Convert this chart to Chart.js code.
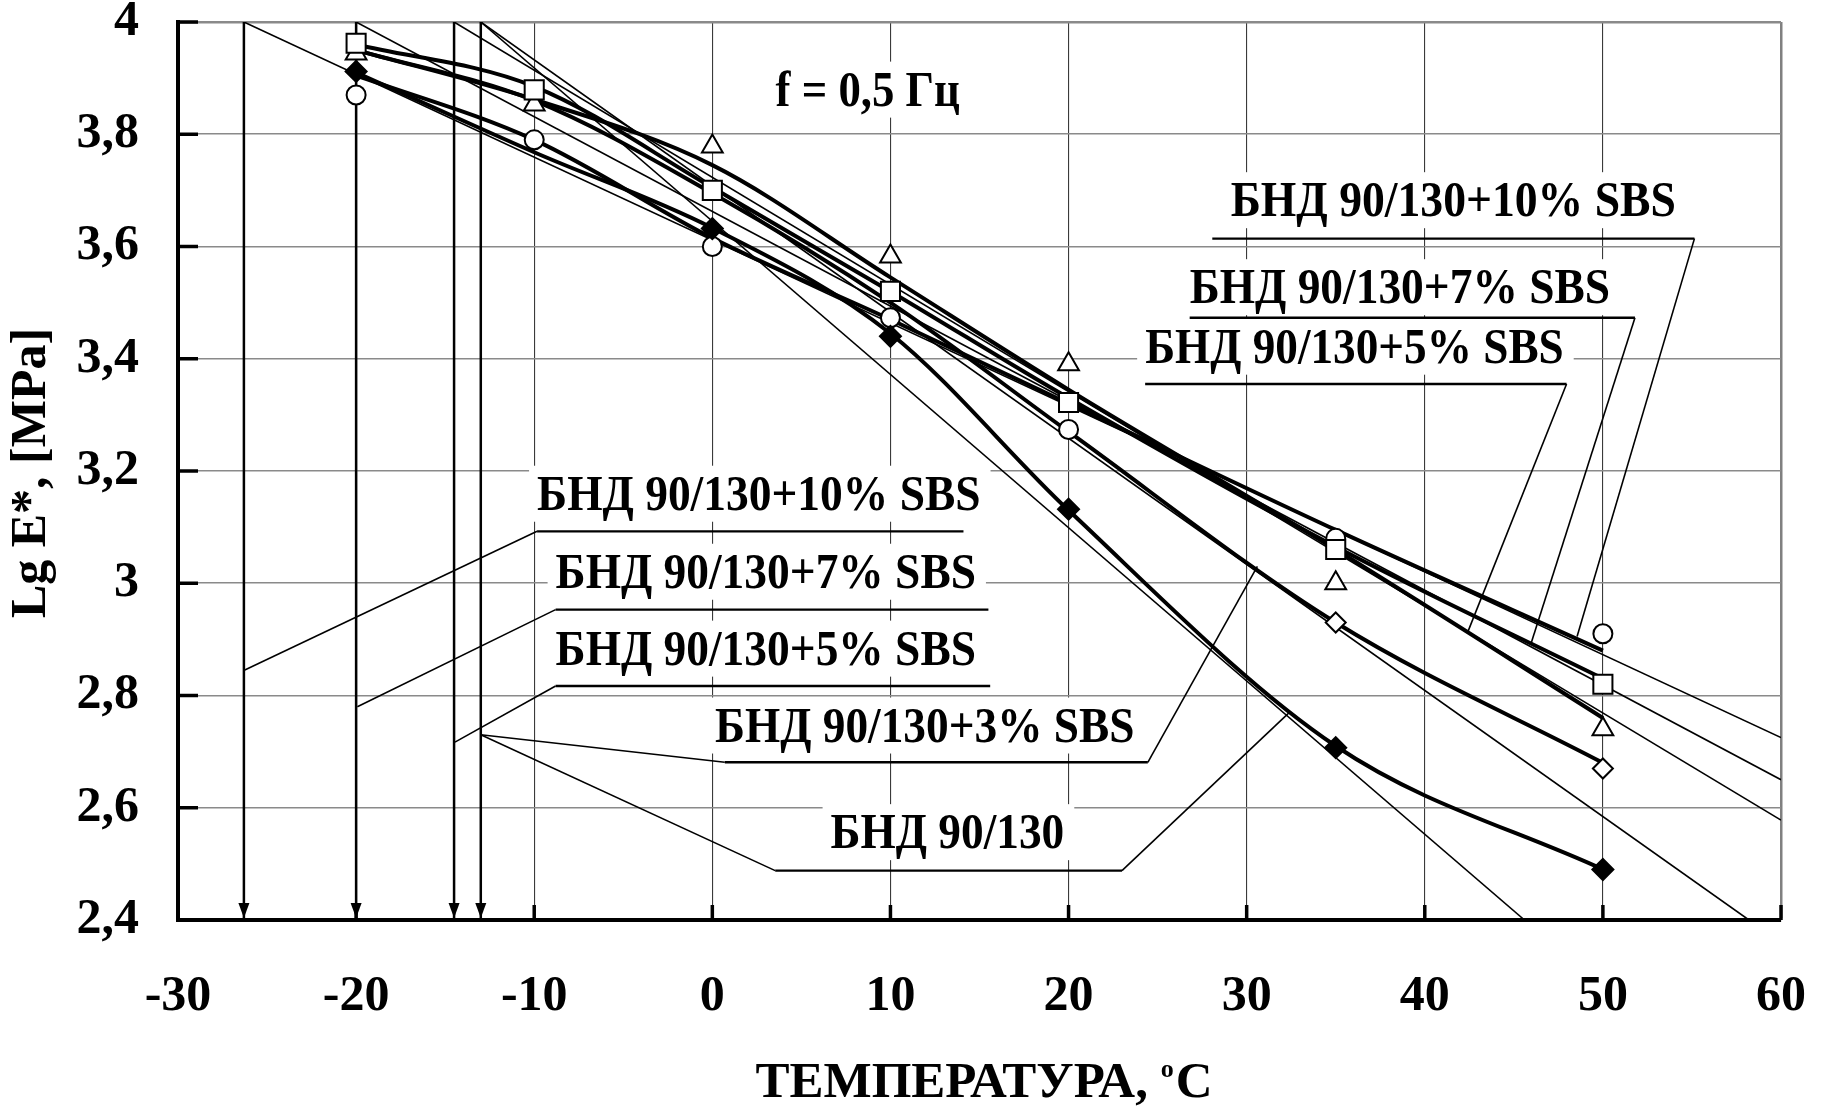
<!DOCTYPE html>
<html lang="ru">
<head>
<meta charset="utf-8">
<title>Lg E* — температура, f = 0,5 Гц</title>
<script src="https://cdn.jsdelivr.net/npm/chart.js@4.4.1/dist/chart.umd.min.js"></script>
<style>
    html, body { margin: 0; padding: 0; background: #fff; }
    #wrap { width: 1825px; height: 1110px; }
</style>
</head>
<body>
<div id="wrap"><canvas id="chart" width="1825" height="1110"></canvas></div>
<script>
// ── Экспериментальные точки ─────────────────────────────────────────────
const temps   = [-20, -10, 0, 10, 20, 35, 50];
const pts10   = [3.870, 3.790, 3.600, 3.473, 3.274, 3.080, 2.910];   // ○ +10% SBS
const pts7    = [3.962, 3.879, 3.700, 3.520, 3.322, 3.060, 2.820];   // □ +7% SBS
const pts5    = [3.944, 3.853, 3.778, 3.582, 3.390, 3.000, 2.740];   // △ +5% SBS
const temps0  = [-20, 0, 10, 20, 35, 50];
const pts0    = [3.912, 3.632, 3.440, 3.132, 2.707, 2.490];          // ◆ БНД 90/130
const temps3  = [35, 50];
const pts3    = [2.930, 2.670];                                      // ◇ +3% SBS

// ── Сглаживающие кривые ─────────────────────────────────────────────────
const fitTemps = [-20, -10, 0, 10, 20, 35, 50];
const fit10 = [3.905, 3.790, 3.615, 3.470, 3.320, 3.095, 2.880];
const fit7  = [3.960, 3.885, 3.705, 3.520, 3.330, 3.065, 2.830];
const fit5  = [3.950, 3.862, 3.745, 3.545, 3.345, 3.060, 2.760];
const fit3  = [3.950, 3.860, 3.695, 3.500, 3.270, 2.930, 2.680];
const fit0  = [3.910, 3.768, 3.633, 3.445, 3.130, 2.710, 2.490];

// ── Касательные (от Lg E* = 4) ──────────────────────────────────────────
const tanFromT = [-26.3, -20, -14.5, -13.0, -13.0];
const tanFromE = [4, 4, 4, 4, 4];
const tanToT   = [60, 60, 60, 58.2, 45.6];
const tanToE   = [2.725, 2.650, 2.578, 2.4, 2.4];

// ── Стрелки к оси температур ───────────────────────────────────────────
const arrowT   = [-26.3, -20, -14.5, -13.0];

// ── Оси ────────────────────────────────────────────────────────────────
const xTicks      = [-30, -20, -10, 0, 10, 20, 30, 40, 50, 60];
const xTickLabels = ['-30', '-20', '-10', '0', '10', '20', '30', '40', '50', '60'];
const yTicks      = [2.4, 2.6, 2.8, 3.0, 3.2, 3.4, 3.6, 3.8, 4.0];
const yTickLabels = ['2,4', '2,6', '2,8', '3', '3,2', '3,4', '3,6', '3,8', '4'];

const FONT = "'Liberation Serif', 'Times New Roman', serif";

// ── Подписи (в координатах графика) ─────────────────────────────────────
const notes = [
    { text: 'f = 0,5 Гц',          t0: 3.55,  t1: 13.9,  base: 3.851 },
    { text: 'БНД 90/130+10% SBS',  t0: 29.1,  t1: 54.1,  base: 3.654 },
    { text: 'БНД 90/130+7% SBS',   t0: 26.8,  t1: 50.4,  base: 3.499 },
    { text: 'БНД 90/130+5% SBS',   t0: 24.3,  t1: 47.8,  base: 3.393 },
    { text: 'БНД 90/130+10% SBS',  t0: -9.84, t1: 15.06, base: 3.131 },
    { text: 'БНД 90/130+7% SBS',   t0: -8.8,  t1: 14.8,  base: 2.992 },
    { text: 'БНД 90/130+5% SBS',   t0: -8.8,  t1: 14.8,  base: 2.855 },
    { text: 'БНД 90/130+3% SBS',   t0: 0.15,  t1: 23.7,  base: 2.718 },
    { text: 'БНД 90/130',          t0: 6.64,  t1: 19.76, base: 2.528 }
];
const underlines = [
    [28.07, 55.14, 3.614], [26.8, 51.8, 3.473], [24.3, 47.96, 3.355],
    [-9.84, 14.1, 3.0925], [-8.8, 15.5, 2.953], [-8.8, 15.6, 2.817],
    [0.7, 24.45, 2.681], [3.53, 23.0, 2.488]
];
const leaders = [
    [[55.14, 3.614], [48.55, 2.905]],
    [[51.8, 3.473], [45.97, 2.893]],
    [[47.96, 3.355], [42.4, 2.912]],
    [[-9.84, 3.0925], [-26.28, 2.845]],
    [[-8.8, 2.953], [-19.93, 2.780]],
    [[-8.8, 2.817], [-14.45, 2.717]],
    [[0.7, 2.681], [-13.0, 2.730]],
    [[24.45, 2.681], [30.6, 3.03]],
    [[3.53, 2.488], [-13.0, 2.730]],
    [[23.0, 2.488], [32.4, 2.77]]
];

const zip = (xs, ys) => xs.map((x, i) => ({ x, y: ys[i] }));

function markerSet(label, xs, ys, style, radius, fill, order) {
    return {
        label, data: zip(xs, ys), showLine: false, order,
        pointStyle: style, pointRadius: radius,
        pointBackgroundColor: fill, pointBorderColor: '#000', pointBorderWidth: 2
    };
}
function curveSet(label, ys) {
    return {
        label, data: zip(fitTemps, ys), showLine: true, order: 10,
        borderColor: '#000', borderWidth: 4, pointRadius: 0,
        cubicInterpolationMode: 'monotone', fill: false
    };
}
function thinSet(label, pts, width, order) {
    return {
        label, data: pts, showLine: true, order,
        borderColor: '#000', borderWidth: width, pointRadius: 0, tension: 0, fill: false
    };
}

const datasets = [
    markerSet('БНД 90/130', temps0, pts0, 'rectRot', 10.5, '#000', 1),
    markerSet('+7% SBS', temps, pts7, 'rect', 13.5, '#fff', 2),
    markerSet('+5% SBS', temps, pts5, 'triangle', 12, '#fff', 3),
    markerSet('+10% SBS', temps, pts10, 'circle', 9.5, '#fff', 4),
    markerSet('+3% SBS', temps3, pts3, 'rectRot', 10, '#fff', 5),
    curveSet('fit +10%', fit10),
    curveSet('fit +7%', fit7),
    curveSet('fit +5%', fit5),
    curveSet('fit +3%', fit3),
    curveSet('fit 0%', fit0)
];
arrowT.forEach((t, i) => {
    datasets.push(thinSet('arrow ' + i, [{ x: t, y: 4 }, { x: t, y: 2.4 }], 2.5, 20));
});
tanFromT.forEach((t, i) => {
    datasets.push(thinSet('tan ' + i, [{ x: t, y: tanFromE[i] }, { x: tanToT[i], y: tanToE[i] }], 1.6, 30));
});

// ═════════════════════════════════════════════════════════════════════
// Оформление: подписи, засечки, стрелки, заголовки осей
// ═════════════════════════════════════════════════════════════════════
const decor = {
    id: 'decor',
    beforeDatasetsDraw(chart) {
        const { ctx, scales: { x, y } } = chart;
        const X = t => x.getPixelForValue(t), Y = e => y.getPixelForValue(e);
        ctx.save();
        ctx.font = `bold 50px ${FONT}`;
        ctx.textBaseline = 'alphabetic';
        ctx.fillStyle = '#fff';
        notes.forEach(n => {
            const x0 = X(n.t0), x1 = X(n.t1), yb = Y(n.base);
            ctx.fillRect(x0 - 8, yb - 44, x1 - x0 + 18, 56);
        });
        ctx.fillStyle = '#000';
        notes.forEach(n => {
            const x0 = X(n.t0), x1 = X(n.t1), yb = Y(n.base);
            const w = ctx.measureText(n.text).width;
            ctx.save();
            ctx.translate(x0, yb);
            ctx.scale((x1 - x0) / w, 1);
            ctx.fillText(n.text, 0, 0);
            ctx.restore();
        });
        ctx.strokeStyle = '#000';
        ctx.lineWidth = 2.4;
        underlines.forEach(([a, b, e]) => {
            ctx.beginPath();
            ctx.moveTo(X(a), Y(e));
            ctx.lineTo(X(b), Y(e));
            ctx.stroke();
        });
        ctx.lineWidth = 1.6;
        leaders.forEach(pl => {
            ctx.beginPath();
            pl.forEach(([t, e], i) => i ? ctx.lineTo(X(t), Y(e)) : ctx.moveTo(X(t), Y(e)));
            ctx.stroke();
        });
        ctx.restore();
    },
    afterDatasetsDraw(chart) {
        const { ctx, chartArea: ca, scales: { x, y } } = chart;
        ctx.save();
        ctx.strokeStyle = '#000';
        ctx.lineWidth = 3.5;
        yTicks.forEach(v => {
            const py = y.getPixelForValue(v);
            ctx.beginPath(); ctx.moveTo(ca.left, py); ctx.lineTo(ca.left + 20, py); ctx.stroke();
        });
        xTicks.forEach(v => {
            const px = x.getPixelForValue(v);
            ctx.beginPath(); ctx.moveTo(px, ca.bottom); ctx.lineTo(px, ca.bottom - 15); ctx.stroke();
        });
        // наконечники стрелок
        ctx.fillStyle = '#000';
        arrowT.forEach(t => {
            const px = x.getPixelForValue(t), tip = ca.bottom - 2;
            ctx.beginPath();
            ctx.moveTo(px, tip);
            ctx.lineTo(px - 5.5, tip - 15);
            ctx.lineTo(px + 5.5, tip - 15);
            ctx.closePath();
            ctx.fill();
        });
        ctx.restore();
    },
    afterDraw(chart) {
        const { ctx } = chart;
        ctx.save();
        ctx.fillStyle = '#000';
        ctx.font = `bold 50px ${FONT}`;
        ctx.textBaseline = 'alphabetic';
        // ось Y
        ctx.save();
        ctx.translate(45, 473);
        ctx.rotate(-Math.PI / 2);
        ctx.textAlign = 'center';
        ctx.fillText('Lg E*, [MPa]', 0, 0);
        ctx.restore();
        // ось X
        ctx.font = `bold 51px ${FONT}`;
        const p1 = 'ТЕМПЕРАТУРА, ', p3 = 'C';
        const w1 = ctx.measureText(p1).width, w3 = ctx.measureText(p3).width;
        ctx.font = `bold 26px ${FONT}`;
        const w2 = ctx.measureText('o').width + 2;
        const sx = 984 - (w1 + w2 + w3) / 2;
        const base = 1097;
        ctx.font = `bold 51px ${FONT}`;
        ctx.fillText(p1, sx, base);
        ctx.font = `bold 26px ${FONT}`;
        ctx.fillText('o', sx + w1, base - 20);
        ctx.font = `bold 51px ${FONT}`;
        ctx.fillText(p3, sx + w1 + w2, base);
        ctx.restore();
    }
};

const tickFont = { family: FONT, weight: 'bold', size: 50 };

// убираем автоматические поля под подписи делений
function noPad(s) {
    s.paddingTop = 0; s.paddingBottom = 0; s.paddingLeft = 0; s.paddingRight = 0;
}

new Chart(document.getElementById('chart'), {
    type: 'scatter',
    data: { datasets },
    options: {
        responsive: false,
        animation: false,
        events: [],
        devicePixelRatio: 1,
        layout: { autoPadding: false, padding: { top: 22, right: 44, left: 0, bottom: 0 } },
        plugins: { legend: { display: false }, tooltip: { enabled: false } },
        scales: {
            x: {
                type: 'linear', min: -30, max: 60,
                afterBuildTicks: s => { s.ticks = xTicks.map(v => ({ value: v })); },
                afterFit: s => { s.height = 190; noPad(s); },
                border: { color: '#000', width: 4 },
                grid: {
                    drawTicks: false,
                    color: c => c.index === 0 ? 'rgba(0,0,0,0)' : (c.index === xTicks.length - 1 ? '#808080' : '#3a3a3a'),
                    lineWidth: c => c.index === xTicks.length - 1 ? 2.5 : 1.1
                },
                ticks: {
                    padding: 47, color: '#000', font: tickFont, maxRotation: 0, autoSkip: false,
                    callback: (v, i) => xTickLabels[i]
                }
            },
            y: {
                type: 'linear', min: 2.4, max: 4,
                afterBuildTicks: s => { s.ticks = yTicks.map(v => ({ value: v })); },
                afterFit: s => { s.width = 178; noPad(s); },
                border: { color: '#000', width: 4 },
                grid: {
                    drawTicks: false,
                    color: c => c.index === 0 ? 'rgba(0,0,0,0)' : '#8a8a8a',
                    lineWidth: c => c.index === yTicks.length - 1 ? 2.5 : 1.6
                },
                ticks: {
                    padding: 39, color: '#000', font: tickFont, autoSkip: false,
                    callback: (v, i) => yTickLabels[i]
                }
            }
        }
    },
    plugins: [decor]
});
</script>
</body>
</html>
